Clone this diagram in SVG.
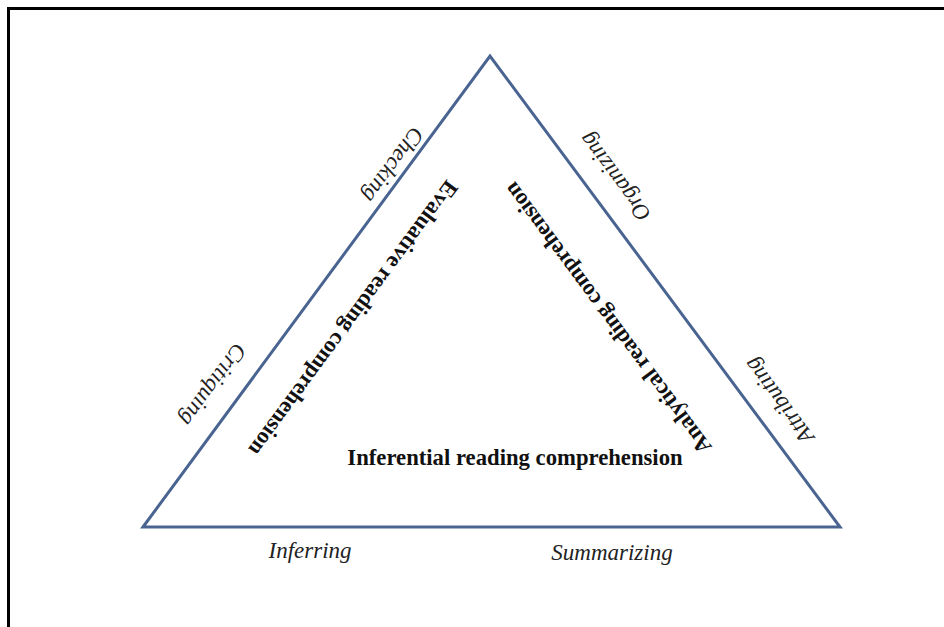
<svg xmlns="http://www.w3.org/2000/svg" width="944" height="627" viewBox="0 0 944 627">
  <style>
    .edge { fill: none; stroke: #4a6491; stroke-width: 3; stroke-linejoin: miter; }
    .frame { fill: none; stroke: #000; stroke-width: 3; }
    .skill { font-family: "Liberation Serif", "Times New Roman", serif; font-style: italic; font-size: 23px; fill: #222; text-anchor: middle; }
    .level { font-family: "Liberation Serif", "Times New Roman", serif; font-weight: bold; font-size: 22.7px; fill: #111; text-anchor: middle; }
  </style>
  <rect width="944" height="627" fill="#fff"/>
  <path class="frame" d="M8.5,627 V8.5 H944"/>

  <!-- triangle sides -->
  <g id="connectors">
    <path class="edge" d="M143,527 L490,56 L840,527 Z"/>
  </g>

  <!-- level labels -->
  <g id="evaluative">
    <text class="level" transform="translate(353,318) rotate(126.4)" y="7">Evaluative reading comprehension</text>
  </g>
  <g id="analytical">
    <text class="level" transform="translate(608,318) rotate(-126.6)" y="7">Analytical reading comprehension</text>
  </g>
  <g id="inferential">
    <text class="level" x="515" y="465">Inferential reading comprehension</text>
  </g>

  <!-- skill labels along the sides -->
  <g id="checking">
    <text class="skill" transform="translate(392,164) rotate(126.4)" y="6">Checking</text>
  </g>
  <g id="critiquing">
    <text class="skill" transform="translate(212,384) rotate(126.4)" y="6">Critiquing</text>
  </g>
  <g id="organizing">
    <text class="skill" transform="translate(616,176) rotate(-126.6)" y="6">Organizing</text>
  </g>
  <g id="attributing">
    <text class="skill" transform="translate(780,400) rotate(-126.6)" y="6">Attributing</text>
  </g>
  <g id="inferring">
    <text class="skill" x="310" y="558">Inferring</text>
  </g>
  <g id="summarizing">
    <text class="skill" x="612" y="560">Summarizing</text>
  </g>
</svg>
